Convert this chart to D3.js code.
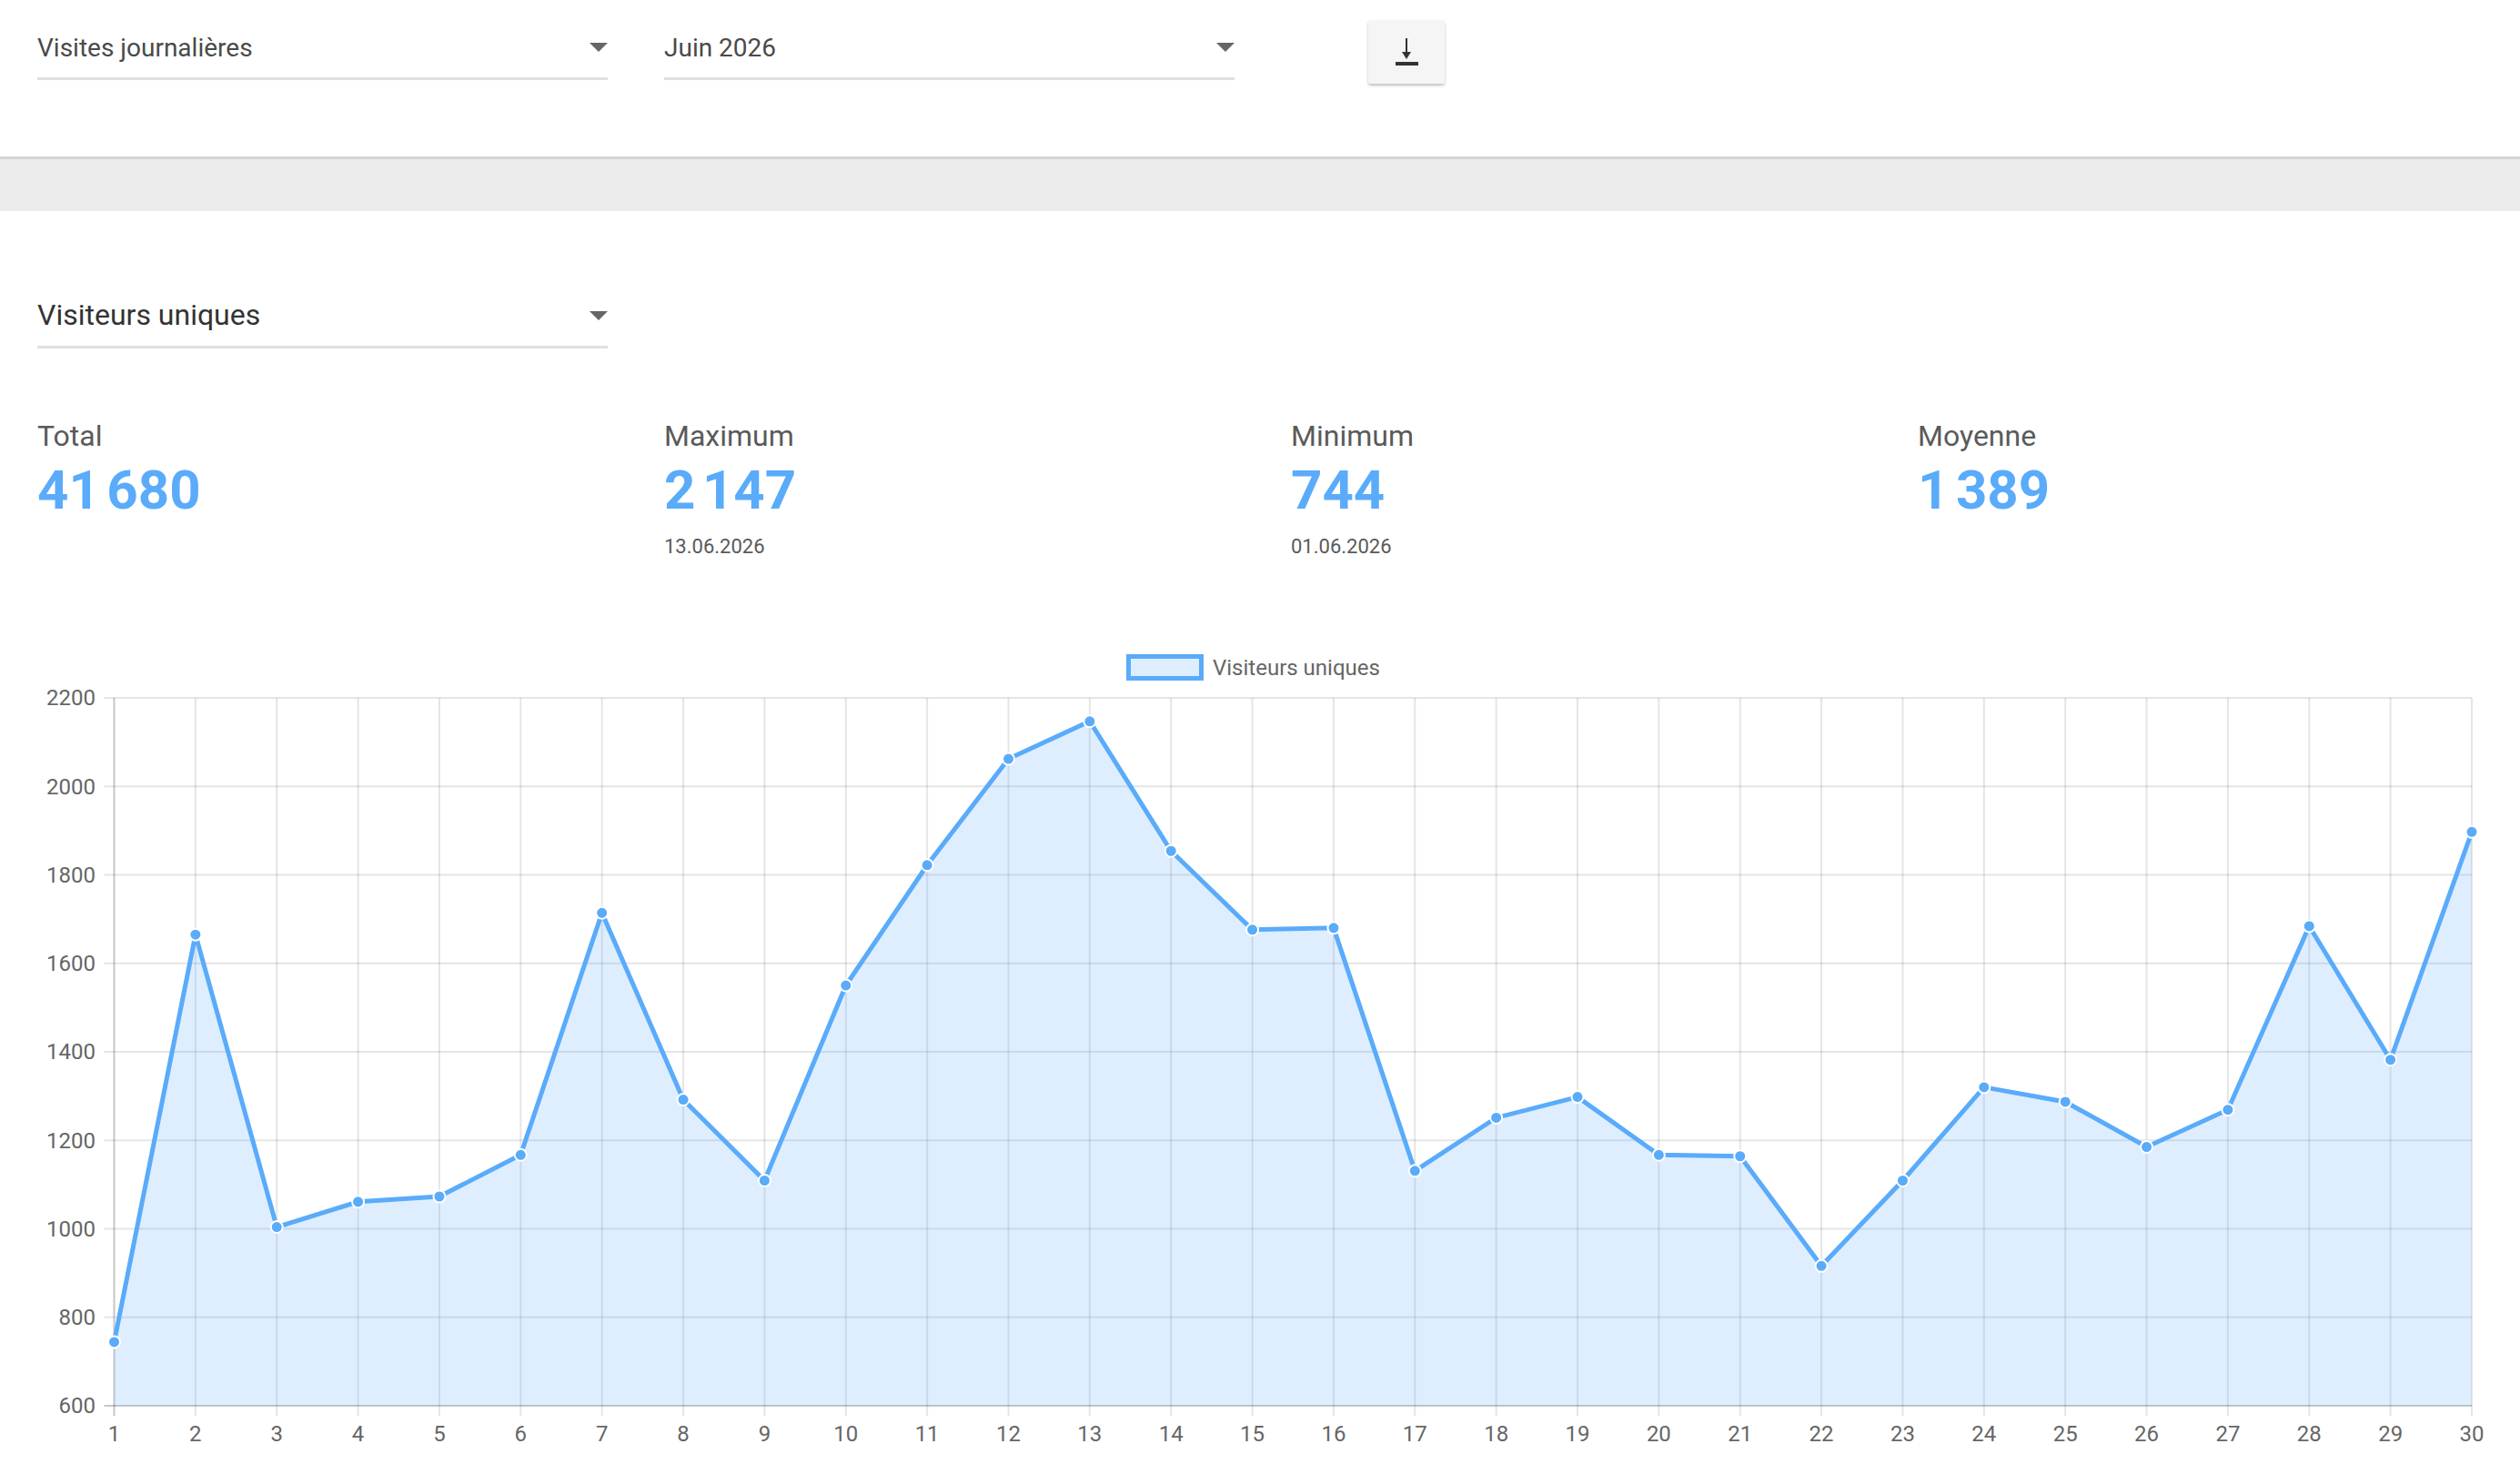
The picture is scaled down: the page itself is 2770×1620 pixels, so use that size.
<!DOCTYPE html>
<html>
<head>
<meta charset="utf-8">
<script src="https://cdn.jsdelivr.net/npm/d3@7"></script>
<style>
  html, body { margin: 0; padding: 0; background: #fff; }
  svg { display: block; font-family: Roboto, "Noto Sans", sans-serif; }
</style>
</head>
<body>
<svg id="page" width="2770" height="1620"></svg>
<script>
// Chart data: unique visitors per day, June 2026
const days = d3.range(1, 31);
const visitors = [
  744, 1665, 1004, 1061, 1073, 1167, 1714, 1292, 1109, 1550,
  1822, 2062, 2147, 1854, 1676, 1680, 1131, 1251, 1298, 1167,
  1164, 916, 1109, 1320, 1287, 1185, 1269, 1684, 1382, 1897
];
const yTicks = [600, 800, 1000, 1200, 1400, 1600, 1800, 2000, 2200];
const seriesName = "Visiteurs uniques";
const monthLabel = "Juin 2026";
const reportLabel = "Visites journalières";
const statLabels = ["Total", "Maximum", "Minimum", "Moyenne"];

const blue = "#5aabfa";
const fillBlue = "rgba(90,170,250,0.2)";

const svg = d3.select("#page");

// French number formatting (narrow space as thousands separator)
const fr = d3.formatLocale({ decimal: ",", thousands: "\u202f", grouping: [3], currency: ["", " €"] });
const fmt = fr.format(",d");
const dateStr = d => String(d).padStart(2, "0") + ".06.2026";

// ---- top controls ----
function dropdown(x, baseline, w, label, size, color) {
  const g = svg.append("g");
  g.append("text")
    .attr("x", x).attr("y", baseline)
    .attr("font-size", size).attr("fill", color)
    .text(label);
  g.append("rect")
    .attr("x", x).attr("y", baseline + 23)
    .attr("width", w).attr("height", 3)
    .attr("fill", "#e0e0e0");
  const ax = x + w - 10;
  const ay = baseline - 15;
  g.append("path")
    .attr("d", `M${ax - 10},${ay} L${ax + 10},${ay} L${ax},${ay + 10} Z`)
    .attr("fill", "#666");
}

dropdown(41, 62, 627, reportLabel, 28, "#4a4a4a");
dropdown(730, 62, 627, monthLabel, 28, "#4a4a4a");

// download button
const defs = svg.append("defs");
const shadow = defs.append("filter").attr("id", "shadow")
  .attr("x", "-20%").attr("y", "-20%").attr("width", "140%").attr("height", "150%");
shadow.append("feDropShadow")
  .attr("dx", 0).attr("dy", 2).attr("stdDeviation", 1.5)
  .attr("flood-color", "#000").attr("flood-opacity", 0.25);

svg.append("rect")
  .attr("x", 1504).attr("y", 22).attr("width", 84).attr("height", 70).attr("rx", 3)
  .attr("fill", "#f5f5f5").attr("filter", "url(#shadow)");
svg.append("line")
  .attr("x1", 1546).attr("y1", 42).attr("x2", 1546).attr("y2", 60)
  .attr("stroke", "#333").attr("stroke-width", 2);
svg.append("path")
  .attr("d", "M1541,57 L1551,57 L1546,65 Z").attr("fill", "#333");
svg.append("rect")
  .attr("x", 1534).attr("y", 68).attr("width", 25).attr("height", 4).attr("fill", "#333");

// grey band
svg.append("rect")
  .attr("x", 0).attr("y", 173).attr("width", 2770).attr("height", 59)
  .attr("fill", "#ebebeb");
svg.append("rect")
  .attr("x", 0).attr("y", 172).attr("width", 2770).attr("height", 3)
  .attr("fill", "#d4d4d4");

// metric dropdown
dropdown(41, 357, 627, seriesName, 32, "#333");

// ---- stats ----
const total = d3.sum(visitors);
const maxI = d3.maxIndex(visitors);
const minI = d3.minIndex(visitors);
const statValues = [total, visitors[maxI], visitors[minI], Math.round(total / visitors.length)];
const statDates = [null, dateStr(days[maxI]), dateStr(days[minI]), null];
const statX = [41, 730, 1419, 2108];

statLabels.forEach((lab, i) => {
  svg.append("text")
    .attr("x", statX[i]).attr("y", 490)
    .attr("font-size", 32).attr("fill", "#5a5a5a")
    .text(lab);
  svg.append("text")
    .attr("x", statX[i]).attr("y", 559)
    .attr("font-size", 60).attr("font-weight", 700).attr("fill", blue)
    .text(fmt(statValues[i]));
  if (statDates[i]) {
    svg.append("text")
      .attr("x", statX[i]).attr("y", 608)
      .attr("font-size", 22).attr("fill", "#5a5a5a")
      .text(statDates[i]);
  }
});

// ---- chart ----
const x = d3.scaleLinear().domain([1, 30]).range([125.5, 2717]);
const y = d3.scaleLinear().domain([600, 2200]).range([1545, 767]);

const grid = svg.append("g");
// horizontal grid lines
grid.selectAll(".hg").data(yTicks).join("line")
  .attr("x1", x(1) - 11).attr("x2", x(30))
  .attr("y1", d => y(d)).attr("y2", d => y(d))
  .attr("stroke", d => d === 600 ? "rgba(0,0,0,0.22)" : "rgba(0,0,0,0.1)")
  .attr("stroke-width", 2);
// vertical grid lines
grid.selectAll(".vg").data(days).join("line")
  .attr("x1", d => x(d)).attr("x2", d => x(d))
  .attr("y1", y(2200)).attr("y2", y(600) + 11)
  .attr("stroke", d => d === 1 ? "rgba(0,0,0,0.22)" : "rgba(0,0,0,0.1)")
  .attr("stroke-width", 2);

// y tick labels
svg.append("g").selectAll("text").data(yTicks).join("text")
  .attr("x", 105).attr("y", d => y(d))
  .attr("dy", "0.35em")
  .attr("text-anchor", "end")
  .attr("font-size", 24).attr("fill", "#666")
  .text(d => d);

// x tick labels
svg.append("g").selectAll("text").data(days).join("text")
  .attr("x", d => x(d)).attr("y", 1584)
  .attr("text-anchor", "middle")
  .attr("font-size", 24).attr("fill", "#666")
  .text(d => d);

const data = days.map((d, i) => ({ day: d, v: visitors[i] }));

const area = d3.area()
  .x(d => x(d.day))
  .y0(y(600))
  .y1(d => y(d.v));

const line = d3.line()
  .x(d => x(d.day))
  .y(d => y(d.v));

svg.append("path")
  .datum(data)
  .attr("fill", fillBlue)
  .attr("d", area);

svg.append("path")
  .datum(data)
  .attr("fill", "none")
  .attr("stroke", blue)
  .attr("stroke-width", 5)
  .attr("stroke-linejoin", "miter")
  .attr("d", line);

svg.append("g").selectAll("circle").data(data).join("circle")
  .attr("cx", d => x(d.day))
  .attr("cy", d => y(d.v))
  .attr("r", 6.5)
  .attr("fill", blue)
  .attr("stroke", "#fff")
  .attr("stroke-width", 2);

// legend
svg.append("rect")
  .attr("x", 1240.5).attr("y", 721.5).attr("width", 80).attr("height", 24)
  .attr("fill", fillBlue).attr("stroke", blue).attr("stroke-width", 5);
svg.append("text")
  .attr("x", 1333).attr("y", 742)
  .attr("font-size", 24).attr("fill", "#666")
  .text(seriesName);
</script>
</body>
</html>
